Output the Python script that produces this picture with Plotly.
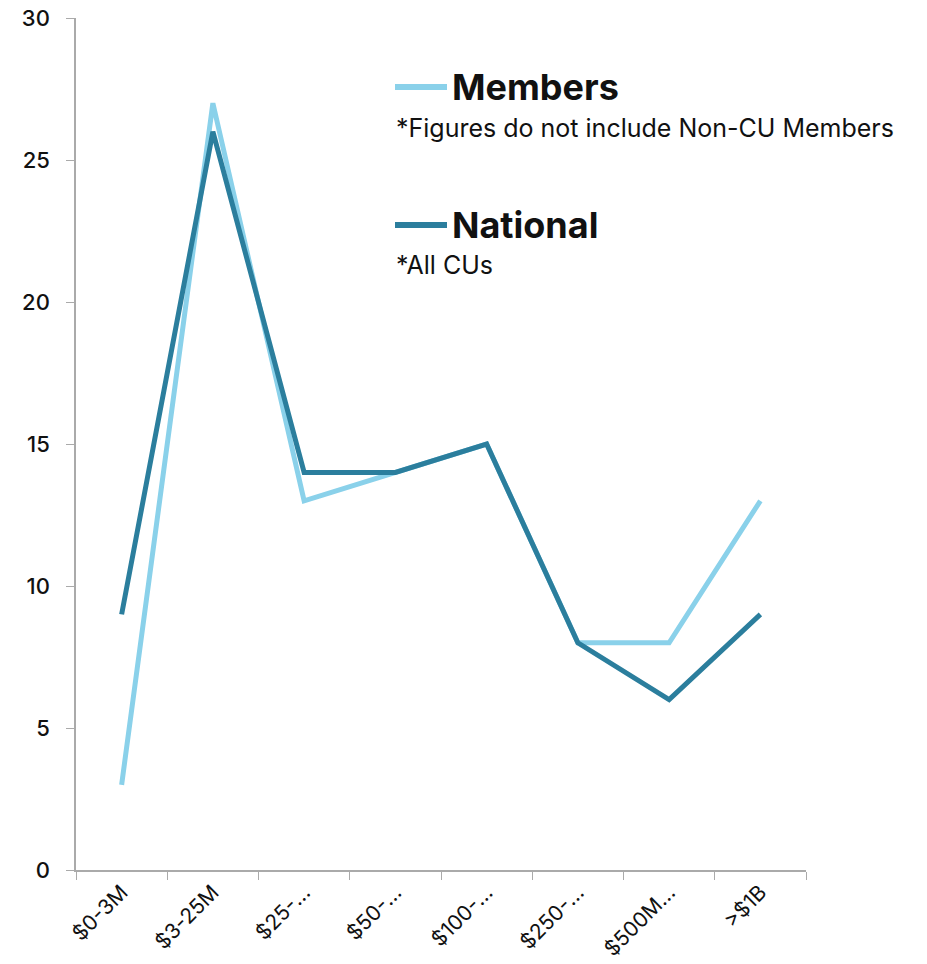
import plotly.graph_objects as go

categories = ["$0-3M", "$3-25M", "$25-…", "$50-…", "$100-…", "$250-…", "$500M…", ">$1B"]
members = [3, 27, 13, 14, 15, 8, 8, 13]
national = [9, 26, 14, 14, 15, 8, 6, 9]

members_color = "#8ad1ea"
national_color = "#2b7e9d"

fig = go.Figure()
fig.add_trace(go.Scatter(x=categories, y=members, mode="lines", name="Members",
                         line=dict(color=members_color, width=5)))
fig.add_trace(go.Scatter(x=categories, y=national, mode="lines", name="National",
                         line=dict(color=national_color, width=5)))

font_family = "Inter, Roboto, sans-serif"

fig.update_layout(
    width=927, height=964,
    margin=dict(l=76, r=121, t=18, b=94),
    plot_bgcolor="white", paper_bgcolor="white",
    showlegend=False,
    font=dict(family=font_family, color="#111111"),
    xaxis=dict(
        type="category", tickson="boundaries", ticks="outside", ticklen=8,
        tickcolor="#aaaaaa", showline=True, linecolor="#aaaaaa", linewidth=1.5,
        showgrid=False, tickangle=-45, automargin=False, ticklabelstandoff=0,
        tickfont=dict(size=21, family=font_family, color="#111111"),
        range=[-0.5, 7.5],
    ),
    yaxis=dict(
        range=[0, 30], tickvals=[0, 5, 10, 15, 20, 25, 30], ticks="outside", ticklen=8,
        tickcolor="#aaaaaa", showline=True, linecolor="#aaaaaa", linewidth=1.5,
        showgrid=False, zeroline=False, automargin=False, ticklabelstandoff=12,
        tickfont=dict(size=22, family=font_family, color="#111111", weight=500),
    ),
)

# Custom legend (positions given in window pixels, converted to paper fractions)
PX0, PY0, PW, PH = 76, 870, 730, 852
legend_items = [
    ("Members", members_color, "*Figures do not include Non-CU Members", 87, 128),
    ("National", national_color, "*All CUs", 225, 265),
]
for name, color, note, ly, ny in legend_items:
    fig.add_shape(type="line", xref="paper", yref="paper",
                  x0=(395 - PX0) / PW, x1=(447 - PX0) / PW,
                  y0=(PY0 - ly) / PH, y1=(PY0 - ly) / PH,
                  line=dict(color=color, width=6))
    fig.add_annotation(xref="paper", yref="paper", x=(450 - PX0) / PW, y=(PY0 - ly) / PH,
                       text="<b>" + name + "</b>", showarrow=False, xanchor="left", yanchor="middle",
                       font=dict(size=36, family=font_family, color="#111111"))
    fig.add_annotation(xref="paper", yref="paper", x=(394 - PX0) / PW, y=(PY0 - ny) / PH,
                       text=note, showarrow=False, xanchor="left", yanchor="middle",
                       font=dict(size=25, family=font_family, color="#111111"))

# remove the default 8px page margin so the figure fills the window exactly
fig.write_html("out.html", config={"displayModeBar": False},
               post_script="document.body.style.margin='0';")
